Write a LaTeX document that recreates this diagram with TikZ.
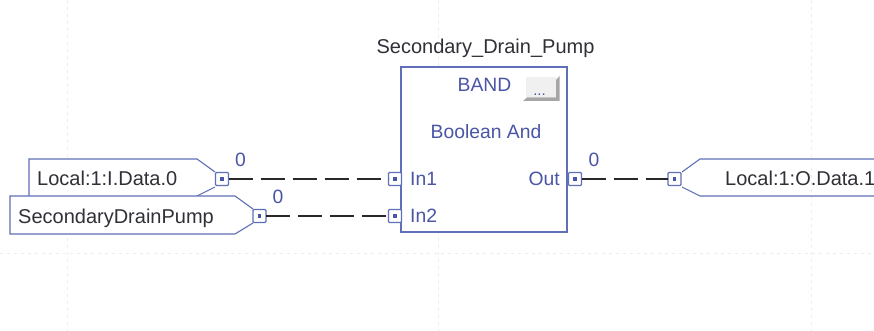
\documentclass[tikz,border=0pt]{standalone}
\usepackage{fontspec}
\setmainfont{Liberation Sans}
\definecolor{edge}{HTML}{5F6FB8}
\definecolor{ink}{HTML}{4A55A6}
\definecolor{txt}{HTML}{303038}
\definecolor{wire}{HTML}{282828}
\definecolor{gridc}{HTML}{ECECEC}
\tikzset{
  tagbox/.style={draw=edge,line width=1.1pt,line join=miter},
  portbox/.style={draw=edge,line width=1.1pt,fill=white,rounded corners=1pt,minimum width=13pt,minimum height=13pt,inner sep=0pt,outer sep=0pt},
  blockbox/.style={draw=edge,line width=1.2pt,fill=white,minimum width=166pt,minimum height=165pt,inner sep=0pt,outer sep=0pt},
  wireline/.style={draw=wire,line width=1.1pt,dash pattern=on 24pt off 8pt},
  black text/.style={text=txt,font=\fontsize{20}{22}\selectfont,inner sep=0pt},
  blue text/.style={text=ink,font=\fontsize{19.3}{22}\selectfont,inner sep=0pt},
  gridline/.style={draw=gridc,line width=.7pt,dash pattern=on 3pt off 4pt},
  pin/.style={fill=ink,minimum size=3.6pt,inner sep=0pt,outer sep=0pt,draw=none}
}
\begin{document}
\begin{tikzpicture}[x=1pt,y=-1pt]
\useasboundingbox (0,0) rectangle (874,331);
\fill[white] (0,0) rectangle (874,331);
\coordinate (g1a) at (67,0); \coordinate (g1b) at (67,331);
\coordinate (g2a) at (438,0); \coordinate (g2b) at (438,331);
\coordinate (g3a) at (811,0); \coordinate (g3b) at (811,331);
\coordinate (g4a) at (0,253); \coordinate (g4b) at (874,253);
\draw[gridline] (g1a)--(g1b);
\draw[gridline] (g2a)--(g2b);
\draw[gridline] (g3a)--(g3b);
\draw[gridline] (g4a)--(g4b);
% tags
\draw[tagbox,fill=white] (29,196) -- (29,159) -- (197,159) -- (215,172) (215,187) -- (197,196);
\draw[tagbox,fill=white] (253,209) -- (235,196) -- (10,196) -- (10,234) -- (235,234) -- (253,223);
\draw[tagbox,fill=white] (874,159) -- (700,159) -- (682,172) (682,187) -- (700,196) -- (874,196);
% block
\node[blockbox] (blk) at (484,149.5) {};
% ports
\node[portbox] (p1) at (222,179) {};
\node[portbox] (p2) at (259.5,216) {};
\node[portbox] (in1) at (395,179) {};
\node[portbox] (in2) at (395,216) {};
\node[portbox] (outp) at (575,179) {};
\node[portbox] (p3) at (674.5,179) {};
\foreach \n in {p1,p2,in1,in2,outp,p3}{\node[pin] at (\n) {};}
% wires
\draw[wireline] (p1.east) -- (in1.west);
\draw[wireline] (p2.east) -- (in2.west);
\draw[wireline] (outp.east) -- (p3.west);
% button
\node[fill=black!6,minimum width=30pt,minimum height=20pt,inner sep=0pt] (btn) at (541,87.5) {};
\fill[gray!70] (523,101) -- (527,97.5) -- (556,97.5) -- (556,80) -- (559.5,76) -- (559.5,101) -- cycle;
\node[text=ink,font=\fontsize{15}{16}\selectfont,inner sep=0pt,anchor=base] (btnt) at (539.5,96) {...};
% labels
\node[black text,anchor=base] (title) at (485.5,54) {Secondary\_Drain\_Pump};
\node[blue text,anchor=base] (band) at (484.5,92) {BAND};
\node[blue text,anchor=base] (desc) at (486,139) {Boolean And};
\node[blue text,anchor=base west] (l1) at (410,185) {In1};
\node[blue text,anchor=base west] (l2) at (410,222) {In2};
\node[blue text,anchor=base east] (l3) at (560,185) {Out};
\node[black text,anchor=base west] (t1) at (37,185) {Local:1:I.Data.0};
\node[black text,anchor=base west] (t2) at (18,223) {SecondaryDrainPump};
\node[black text,anchor=base west] (t3) at (725,185) {Local:1:O.Data.1};
\node[blue text,anchor=base] (v1) at (240.5,166) {0};
\node[blue text,anchor=base] (v2) at (278,203) {0};
\node[blue text,anchor=base] (v3) at (594,166) {0};
\end{tikzpicture}
\end{document}
